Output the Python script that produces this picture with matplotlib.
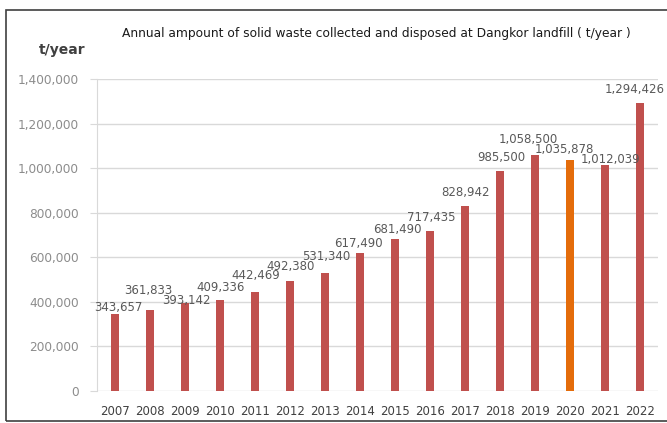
import matplotlib
matplotlib.use("Agg")
import matplotlib.pyplot as plt
from matplotlib.patches import Rectangle

# data
years = ["2007", "2008", "2009", "2010", "2011", "2012", "2013", "2014",
         "2015", "2016", "2017", "2018", "2019", "2020", "2021", "2022"]
amounts = [343657, 361833, 393142, 409336, 442469, 492380, 531340, 617490,
           681490, 717435, 828942, 985500, 1058500, 1035878, 1012039, 1294426]
highlight_year = "2020"

# hand placement of the value labels (pixels from bar top)
label_dx = [3, -2, 2, 1, 1, 1, 1, -2, 2, 1, 0, 1, -7, -6, 5, -5]
label_dy = [7, 20, 3, 12, 17, 15, 16, 10, 10, 14, 14, 14, 16, 11, 6, 13]

red = "#C0504D"
orange = "#E46C0A"

fig = plt.figure(figsize=(6.67, 4.23), dpi=100)
ax = fig.add_axes([97 / 667, 1 - 391 / 423, (658 - 97) / 667, (391 - 79) / 423])

x = list(range(len(years)))
colors = [orange if y == highlight_year else red for y in years]
ax.bar(x, amounts, width=0.24, color=colors, zorder=3)

for i, v in enumerate(amounts):
    ax.annotate(f"{v:,}", (x[i], v), xytext=(label_dx[i], label_dy[i]),
                textcoords="offset pixels", ha="center", va="center",
                fontsize=8.5, color="#595959", zorder=4)

ax.set_xlim(-0.51, len(years) - 0.49)
ax.set_ylim(0, 1400000)
ax.set_yticks(range(0, 1400001, 200000))
ax.set_yticklabels([f"{t:,}" for t in range(0, 1400001, 200000)])
ax.set_xticks(x)
ax.set_xticklabels(years)

ax.grid(axis="y", color="#D9D9D9", linewidth=1, zorder=0)
for s in ["top", "right", "bottom"]:
    ax.spines[s].set_visible(False)
ax.spines["left"].set_color("#D9D9D9")
ax.tick_params(axis="y", colors="#D9D9D9", labelcolor="#8C8C8C", labelsize=8.7,
               length=5, pad=8)
ax.tick_params(axis="x", length=0, labelcolor="#404040", labelsize=8.5, pad=10)

fig.text(376 / 667, 1 - 33 / 423,
         "Annual ampount of solid waste collected and disposed at Dangkor landfill ( t/year )",
         ha="center", va="center", fontsize=8.8, color="#1A1A1A")
fig.text(62 / 667, 1 - 50 / 423, "t/year", ha="center", va="center",
         fontsize=10, fontweight="bold", color="#404040")

# outer frame of the original picture
fig.patches.append(Rectangle((6 / 667, 2 / 423), 1.2, 411 / 423,
                             transform=fig.transFigure, fill=False,
                             edgecolor="#404040", linewidth=1.2))

plt.savefig("out.png", dpi=100)
